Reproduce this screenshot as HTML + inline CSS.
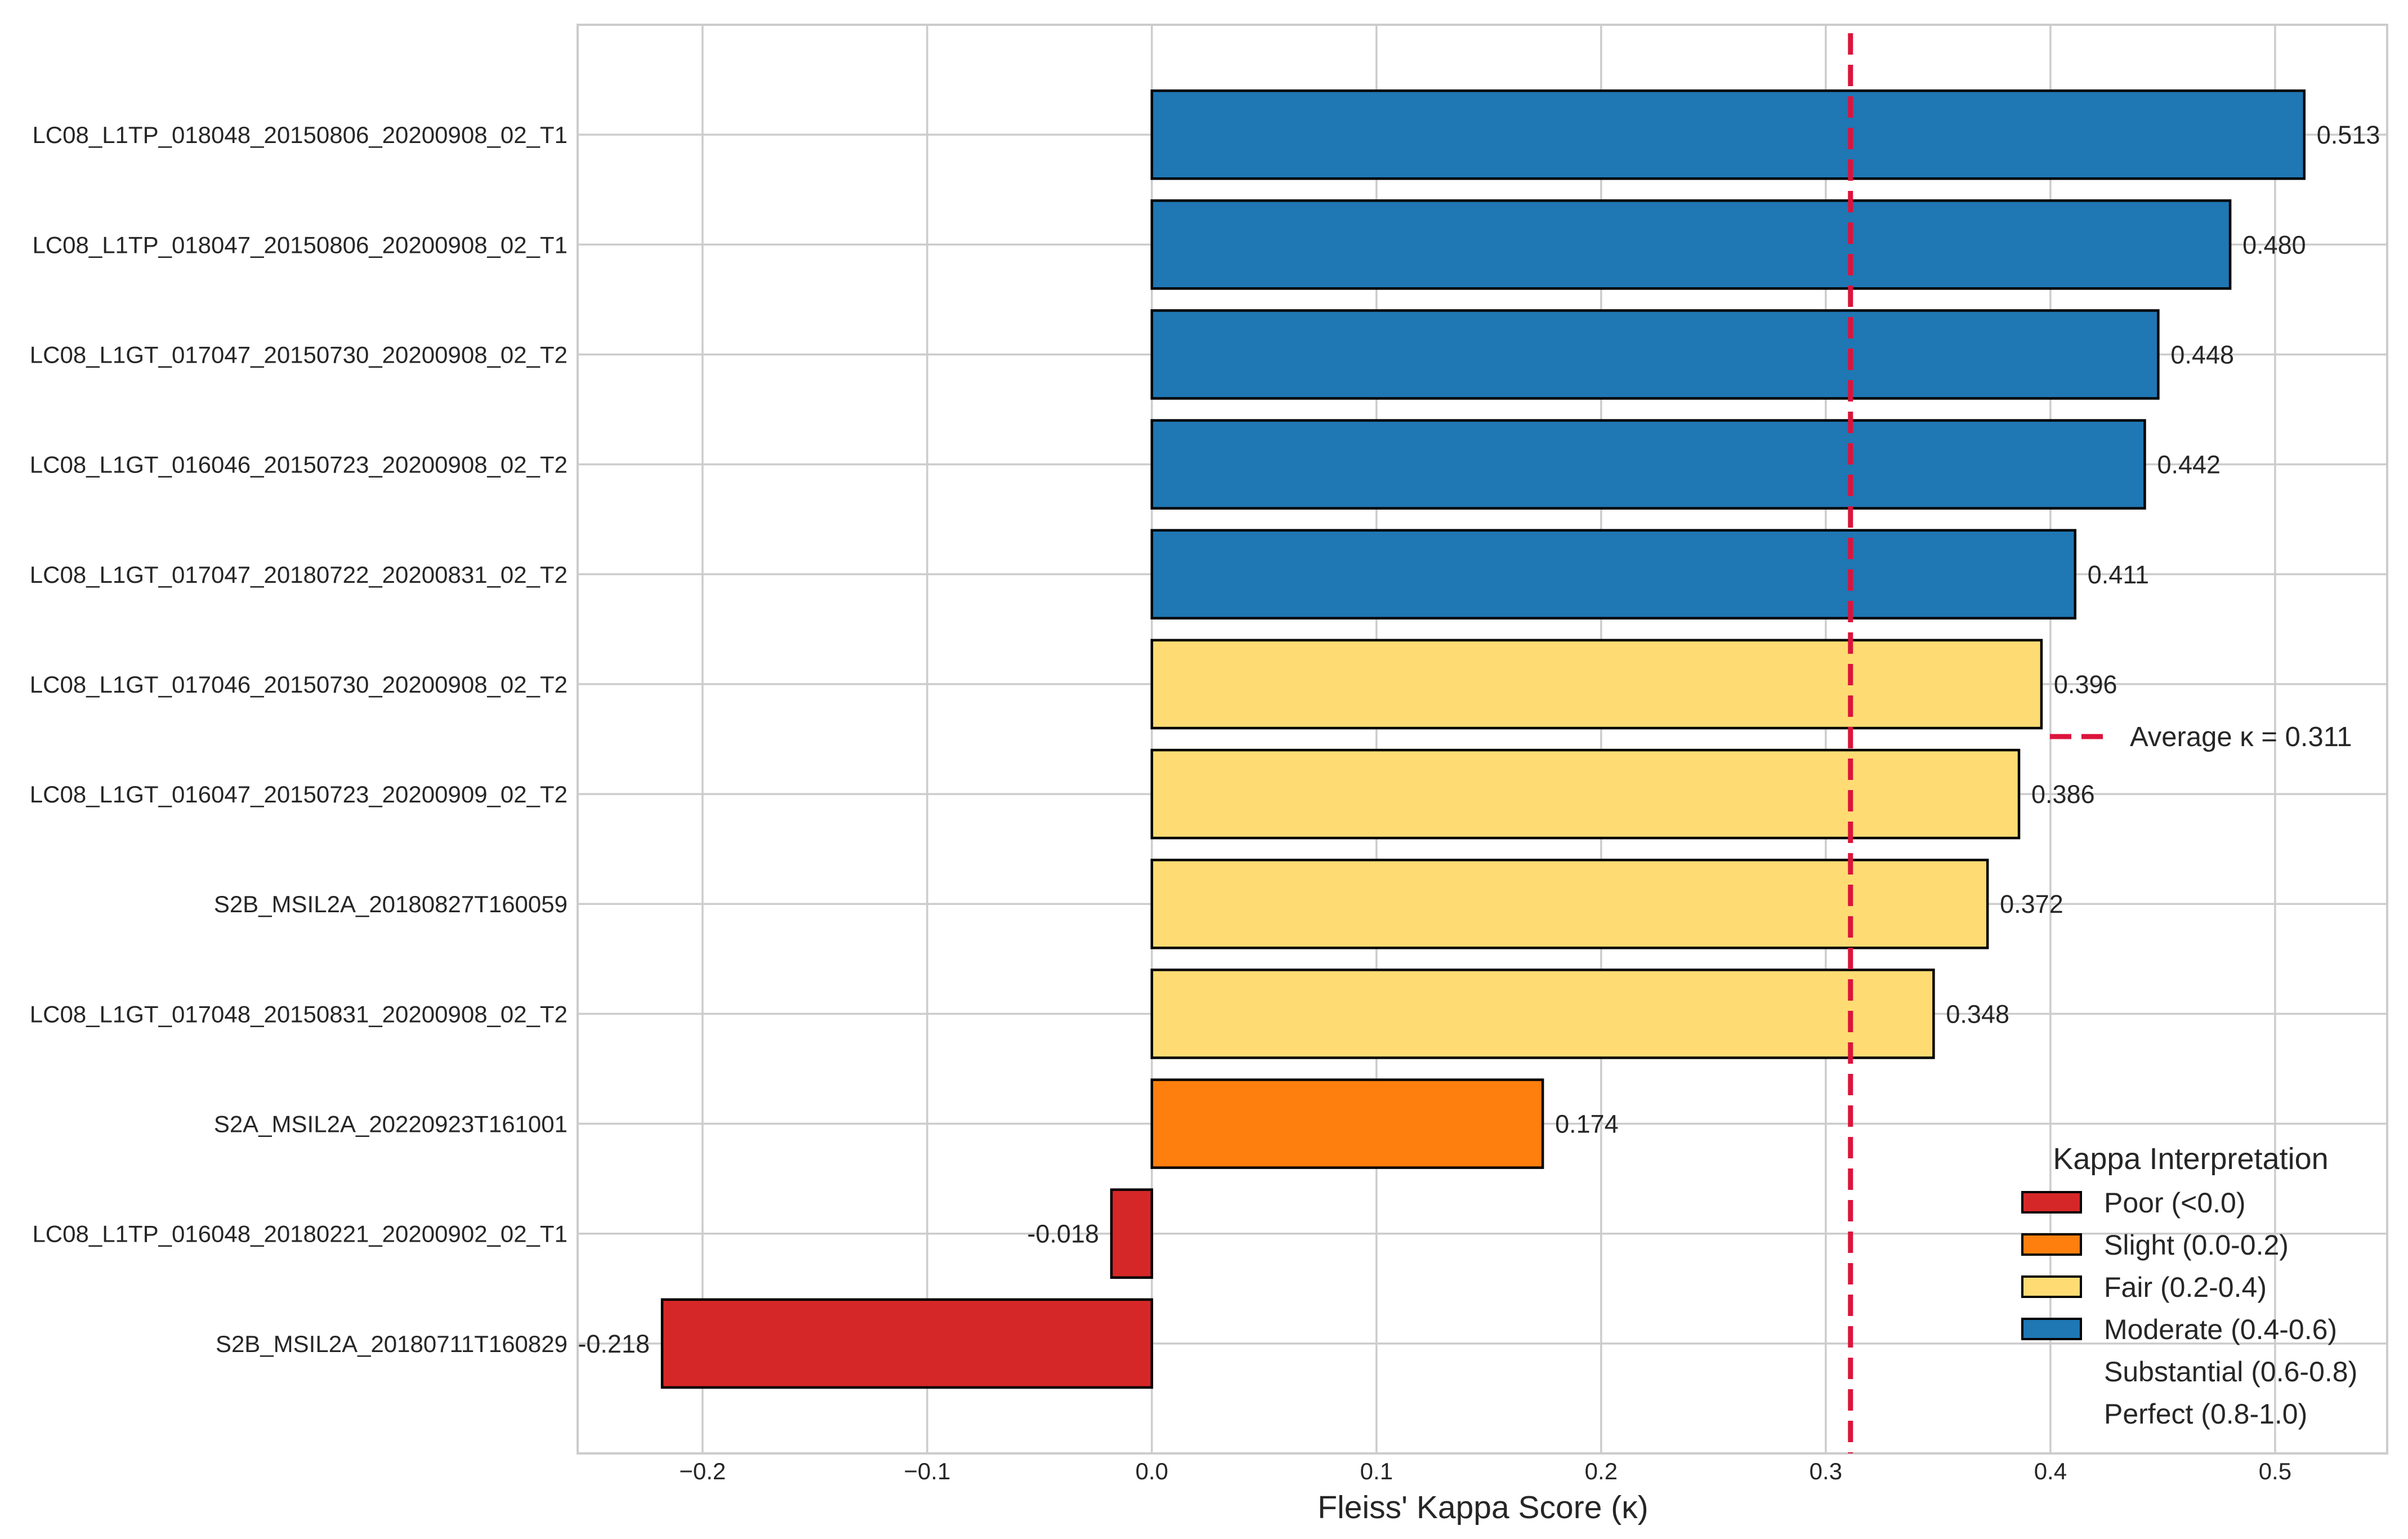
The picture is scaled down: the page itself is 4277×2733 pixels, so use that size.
<!DOCTYPE html>
<html><head><meta charset="utf-8"><style>html,body{margin:0;padding:0;background:#fff}svg{display:block}text{font-family:"Liberation Sans",Arial,sans-serif;fill:#262626}</style></head>
<body>
<svg id="chart" width="4277" height="2733" viewBox="0 0 4277 2733" xmlns="http://www.w3.org/2000/svg">
<rect x="0" y="0" width="4277" height="2733" fill="#fff"/>
<g id="grid"></g><g id="bars"></g><g id="labels"></g><g id="overlay"></g>
</svg>
<script>
const categories = ["LC08_L1TP_018048_20150806_20200908_02_T1","LC08_L1TP_018047_20150806_20200908_02_T1","LC08_L1GT_017047_20150730_20200908_02_T2","LC08_L1GT_016046_20150723_20200908_02_T2","LC08_L1GT_017047_20180722_20200831_02_T2","LC08_L1GT_017046_20150730_20200908_02_T2","LC08_L1GT_016047_20150723_20200909_02_T2","S2B_MSIL2A_20180827T160059","LC08_L1GT_017048_20150831_20200908_02_T2","S2A_MSIL2A_20220923T161001","LC08_L1TP_016048_20180221_20200902_02_T1","S2B_MSIL2A_20180711T160829"];
const kappaValues = [0.513,0.480,0.448,0.442,0.411,0.396,0.386,0.372,0.348,0.174,-0.018,-0.218];
const xTicks = [-0.2,-0.1,0.0,0.1,0.2,0.3,0.4,0.5];
const xTickLabels = ["\u22120.2","\u22120.1","0.0","0.1","0.2","0.3","0.4","0.5"];
const averageKappa = 0.311;
const legendLabels = ["Poor (<0.0)","Slight (0.0-0.2)","Fair (0.2-0.4)","Moderate (0.4-0.6)","Substantial (0.6-0.8)","Perfect (0.8-1.0)"];

const NS="http://www.w3.org/2000/svg";
const L=1026,R=4240,T=44,B=2581,xmin=-0.2556,xmax=0.5499;
const xs=v=>L+(v-xmin)/(xmax-xmin)*(R-L);
const step=(B-T)/(categories.length+1);
const ys=i=>T+step*(i+1);
const colorOf=v=>v<0?"#d62728":v<0.2?"#ff7f0e":v<0.4?"#ffdc73":v<0.6?"#1f77b4":"#2ca02c";
function mk(tag,attrs,parent,text){const e=document.createElementNS(NS,tag);for(const k in attrs)e.setAttribute(k,attrs[k]);if(text!==undefined)e.textContent=text;parent.appendChild(e);return e;}
const grid=document.getElementById('grid'),bars=document.getElementById('bars'),labels=document.getElementById('labels'),ov=document.getElementById('overlay');
xTicks.forEach((t,i)=>{
  const g=mk('line',{x1:xs(t),x2:xs(t),y1:T,y2:B,stroke:'#cccccc','stroke-width':3.5},grid);
  
  
  const tl=mk('text',{x:xs(t),y:2627,'text-anchor':'middle','font-size':42},labels,xTickLabels[i]);
  
  
});
categories.forEach((c,i)=>{
  const g=mk('line',{x1:L,x2:R,y1:ys(i),y2:ys(i),stroke:'#cccccc','stroke-width':3.5},grid);
  
  
  const tl=mk('text',{x:1008,y:ys(i)+15,'text-anchor':'end','font-size':42},labels,c);
  
  
  const v=kappaValues[i],h=step*0.8;
  const x0=Math.min(xs(0),xs(v)),w=Math.abs(xs(v)-xs(0));
  const b=mk('rect',{x:x0,y:ys(i)-h/2,width:w,height:h,fill:colorOf(v),stroke:'#000','stroke-width':4.5},bars);
  
  
  const vl=mk('text',{x:v>=0?xs(v)+22:xs(v)-22,y:ys(i)+16,'text-anchor':v>=0?'start':'end','font-size':45},labels,v.toFixed(3));
  
  
});
const sp=mk('rect',{x:L,y:T,width:R-L,height:B-T,fill:'none',stroke:'#cccccc','stroke-width':4},ov);


const av=mk('line',{x1:xs(averageKappa),x2:xs(averageKappa),y1:T+15,y2:B,stroke:'#dc143c','stroke-width':9,'stroke-dasharray':'38 18'},ov);


const xl=mk('text',{x:2634,y:2696,'text-anchor':'middle','font-size':57},labels,"Fleiss' Kappa Score (\u03ba)");


const al=mk('line',{x1:3641,x2:3737,y1:1308,y2:1308,stroke:'#dc143c','stroke-width':9,'stroke-dasharray':'38 18'},ov);


const at=mk('text',{x:3783,y:1325,'font-size':49},ov,"Average \u03ba = "+averageKappa.toFixed(3));


const lt=mk('text',{x:3891,y:2076,'text-anchor':'middle','font-size':54},ov,"Kappa Interpretation");


const legColors=["#d62728","#ff7f0e","#ffdc73","#1f77b4",null,null];
legendLabels.forEach((lab,i)=>{
  const y=2135+i*75;
  if(legColors[i]){
    const p=mk('rect',{x:3592,y:y-18,width:104,height:36,fill:legColors[i],stroke:'#000','stroke-width':4},ov);
    
    
  }
  const t=mk('text',{x:3737,y:y+18,'font-size':50},ov,lab);
  
  
});
</script>
</body></html>
